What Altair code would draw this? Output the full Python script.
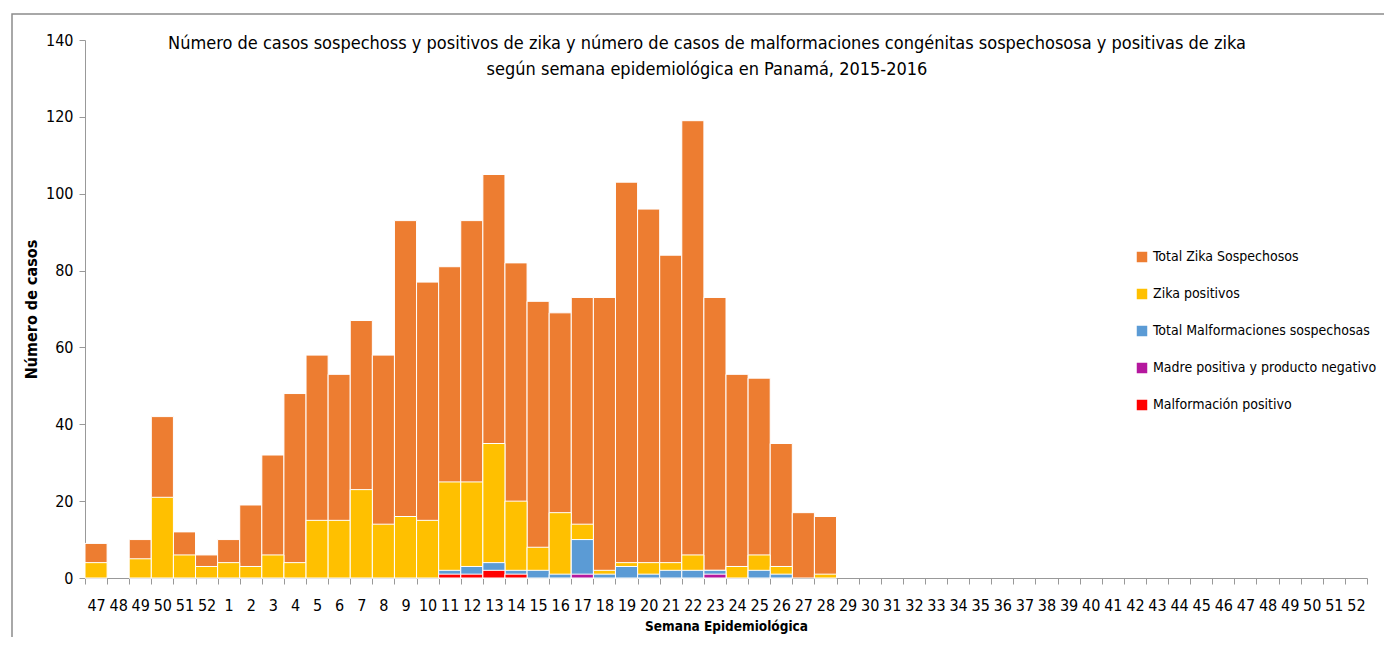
import altair as alt
import pandas as pd

weeks_2015 = ["47", "48", "49", "50", "51", "52"]
weeks_2016 = [str(i) for i in range(1, 53)]
categories = ["2015-" + w for w in weeks_2015] + ["2016-" + w for w in weeks_2016]

# values for 2015 wk47-52 then 2016 wk1-28 (weeks 29-52 have no data)
total_sospechosos = [9, 0, 10, 42, 12, 6,
                     10, 19, 32, 48, 58, 53, 67, 58, 93, 77,
                     81, 93, 105, 82, 72, 69, 73, 73, 103, 96,
                     84, 119, 73, 53, 52, 35, 17, 16]
zika_positivos = [4, 0, 5, 21, 6, 3,
                  4, 3, 6, 4, 15, 15, 23, 14, 16, 15,
                  25, 25, 35, 20, 8, 17, 14, 2, 4, 4,
                  4, 6, 2, 3, 6, 3, 0, 1]
malformaciones_sospechosas = [0, 0, 0, 0, 0, 0,
                              0, 0, 0, 0, 0, 0, 0, 0, 0, 0,
                              2, 3, 4, 2, 2, 1, 10, 1, 3, 1,
                              2, 2, 2, 0, 2, 1, 0, 0]
madre_positiva = [0, 0, 0, 0, 0, 0,
                  0, 0, 0, 0, 0, 0, 0, 0, 0, 0,
                  0, 0, 0, 0, 0, 0, 1, 0, 0, 0,
                  0, 0, 1, 0, 0, 0, 0, 0]
malformacion_positivo = [0, 0, 0, 0, 0, 0,
                         0, 0, 0, 0, 0, 0, 0, 0, 0, 0,
                         1, 1, 2, 1, 0, 0, 0, 0, 0, 0,
                         0, 0, 0, 0, 0, 0, 0, 0]

series_names = ["Total Zika Sospechosos", "Zika positivos",
                "Total Malformaciones sospechosas",
                "Madre positiva y producto negativo", "Malformación positivo"]
series_colors = ["#ED7D31", "#FFC000", "#5B9BD5", "#B5179E", "#FF0000"]
series_values = [total_sospechosos, zika_positivos, malformaciones_sospechosas,
                 madre_positiva, malformacion_positivo]

rows = []
for name, vals in zip(series_names, series_values):
    for cat, v in zip(categories, vals):
        if v > 0:
            rows.append({"semana": cat, "serie": name, "casos": v})
df = pd.DataFrame(rows)

NARROW = "DejaVu Sans Condensed, sans-serif"

bars = alt.Chart(df).mark_bar(stroke="white", strokeWidth=1).encode(
    x=alt.X("semana:N",
            scale=alt.Scale(domain=categories, paddingInner=0, paddingOuter=0),
            axis=alt.Axis(title="Semana Epidemiológica", labelAngle=0,
                          labelExpr="split(datum.label, '-')[1]",
                          tickBand="extent", tickSize=6, labelPadding=13,
                          labelFont=NARROW, labelFontSize=16, labelColor="#000",
                          domainColor="#999", tickColor="#999",
                          titleFont=NARROW, titleFontSize=13.5, titleFontWeight="bold",
                          titleColor="#000", titlePadding=6)),
    y=alt.Y("casos:Q", stack=None,
            scale=alt.Scale(domain=[0, 140]),
            axis=alt.Axis(title="Número de casos", values=list(range(0, 141, 20)),
                          grid=False, tickSize=6, labelPadding=6,
                          labelFont=NARROW, labelFontSize=16, labelColor="#000",
                          domainColor="#999", tickColor="#999",
                          titleFont=NARROW, titleFontSize=16, titleFontWeight="bold",
                          titleColor="#000", titlePadding=6)),
    color=alt.Color("serie:N",
                    scale=alt.Scale(domain=series_names, range=series_colors),
                    legend=alt.Legend(title=None, orient="none", legendX=1050, legendY=210,
                                      symbolType="square", symbolSize=110,
                                      symbolStrokeWidth=0, rowPadding=23,
                                      labelFont=NARROW, labelFontSize=14,
                                      labelOffset=4,
                                      labelColor="#000", labelLimit=400)),
)

border = alt.Chart(pd.DataFrame({"a": [0]})).mark_rect(
    fillOpacity=0, stroke="#8c8c8c", strokeWidth=1.5
).encode(x=alt.value(-73), x2=alt.value(1330), y=alt.value(-26), y2=alt.value(700))

chart = alt.layer(border, bars).properties(
    width=1282, height=538,
    title=alt.TitleParams(
        text=["Número de casos sospechoss y positivos de zika y número de casos de malformaciones congénitas sospechososa y positivas de zika",
              "según semana epidemiológica en Panamá, 2015-2016"],
        anchor="middle", dx=-19, dy=70, font="DejaVu Sans Condensed",
        fontSize=18, fontWeight="normal", color="#000", lineHeight=26),
    autosize=alt.AutoSizeParams(type="none"),
    padding={"left": 77, "top": 32, "right": 17, "bottom": 59},
).configure_view(stroke=None)

chart.save("out.html", embed_options={"renderer": "svg", "actions": False})
